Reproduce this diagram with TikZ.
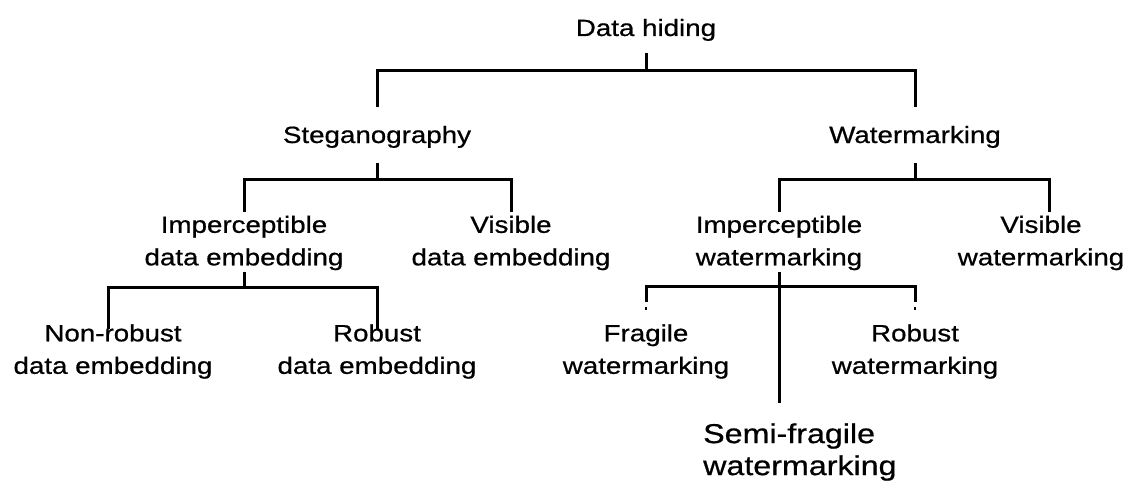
\documentclass[tikz,border=0pt]{standalone}
\usepackage{fontspec}
\setmainfont{Liberation Sans}[FakeStretch=1.18, FakeBold=0.7]
\begin{document}
\begin{tikzpicture}[x=1pt, y=-1pt,
  lbl/.style={font=\fontsize{23.5}{32.5}\selectfont, align=center, inner sep=0pt},
  biglbl/.style={font=\fontsize{27.3}{32}\selectfont, align=left, inner sep=0pt},
  link/.style={draw=black, line width=3pt},
  speck/.style={draw=black, line width=2.5pt}]
\path[use as bounding box, fill=white] (0,0) rectangle (1131,484);

% levels of the tree (only their y values are used)
\coordinate (lA0) at (0,53);
\coordinate (lA)  at (0,71);
\coordinate (lA1) at (0,107);
\coordinate (lB0) at (0,163);
\coordinate (lB)  at (0,179);
\coordinate (lB1) at (0,212);
\coordinate (lC0) at (0,272);
\coordinate (lC)  at (0,287);
\coordinate (lC1) at (0,329);
\coordinate (lD)  at (0,286);
\coordinate (lD1) at (0,302);
\coordinate (lD2) at (0,307);
\coordinate (lD3) at (0,310);
\coordinate (lE)  at (0,403);

% labels
\node[lbl, anchor=base] (dh)   at (646,36)  {Data hiding};
\node[lbl, anchor=base] (steg) at (377,143) {Steganography};
\node[lbl, anchor=base] (wm)   at (915,143) {Watermarking};
\node[lbl] (imp)  at (244,243) {Imperceptible\\data embedding};
\node[lbl] (vis)  at (511,243) {Visible\\data embedding};
\node[lbl] (impw) at (779,243) {Imperceptible\\watermarking};
\node[lbl] (visw) at (1041,243) {Visible\\watermarking};
\node[lbl] (nonrob) at (113,351.5) {Non-robust\\data embedding};
\node[lbl] (rob)    at (377,351.5) {Robust\\data embedding};
\node[lbl] (frag)   at (646,351.5) {Fragile\\watermarking};
\node[lbl] (robw)   at (915,351.5) {Robust\\watermarking};
\node[biglbl, anchor=west] (semi) at (703,452) {Semi-fragile\\watermarking};

\coordinate (vwtop) at ([xshift=8pt]visw.north);
\coordinate (nrtop) at ([xshift=-5pt]nonrob.north);

% connectors
\draw[link] (dh |- lA0) -- (dh |- lA) -| (steg |- lA1);
\draw[link] (dh |- lA) -| (wm |- lA1);

\draw[link] (steg |- lB0) -- (steg |- lB) -| (imp |- lB1);
\draw[link] (steg |- lB) -| (vis |- lB1);

\draw[link] (wm |- lB0) -- (wm |- lB) -| (impw |- lB1);
\draw[link] (wm |- lB) -| (vwtop |- lB1);

\draw[link] (imp |- lC0) -- (imp |- lC) -| (nrtop |- lC1);
\draw[link] (imp |- lC) -| (rob |- lC1);

\draw[link] (impw |- lC0) -- (impw |- lE);
\draw[link] (frag |- lD1) |- (robw |- lD) -- (robw |- lD1);
\draw[speck] (frag |- lD2) -- (frag |- lD3);
\draw[speck] (robw |- lD2) -- (robw |- lD3);
\end{tikzpicture}
\end{document}
